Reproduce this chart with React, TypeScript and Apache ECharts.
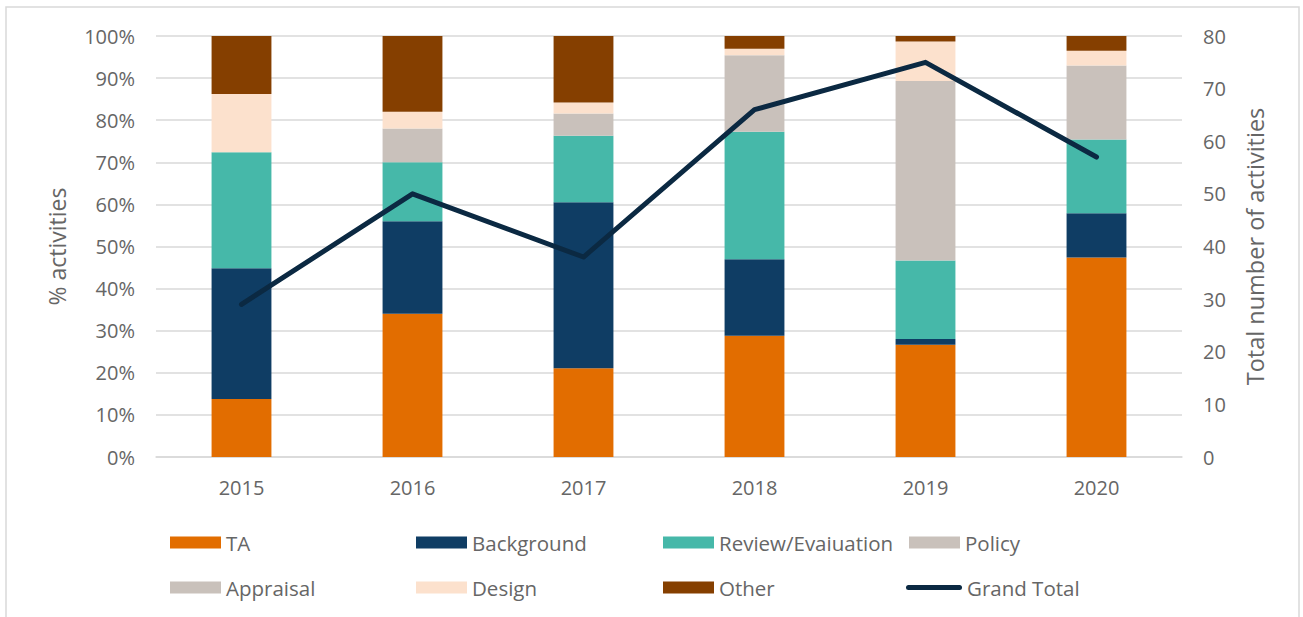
import React, { useEffect, useRef } from "react";
import * as echarts from "echarts";

const years = ["2015", "2016", "2017", "2018", "2019", "2020"];
// activity counts per category and year
const ta = [4, 17, 8, 19, 20, 27];
const background = [9, 11, 15, 12, 1, 6];
const review = [8, 7, 6, 20, 14, 10];
const policy = [0, 4, 2, 12, 32, 10];
const appraisal = [0, 0, 0, 0, 0, 0];
const design = [4, 2, 1, 1, 7, 2];
const other = [4, 9, 6, 2, 1, 2];
const grandTotal = [29, 50, 38, 66, 75, 57];

const leftTicks = { min: 0, max: 100, interval: 10 };
const rightTicks = { min: 0, max: 80, interval: 10 };

const FONT = "'Open Sans', 'Noto Sans', sans-serif";
const TXT = "#666666";

const seriesDefs = [
  { name: "TA", data: ta, color: "#e26d00" },
  { name: "Background", data: background, color: "#0f3d64" },
  { name: "Review/Evaiuation", data: review, color: "#46b8a9" },
  { name: "Policy", data: policy, color: "#c9c1bb" },
  { name: "Appraisal", data: appraisal, color: "#c9c1bb" },
  { name: "Design", data: design, color: "#fce1cd" },
  { name: "Other", data: other, color: "#853f00" },
];

const legendPos = [
  { name: "TA", left: 170, top: 532 },
  { name: "Background", left: 416, top: 532 },
  { name: "Review/Evaiuation", left: 663, top: 532 },
  { name: "Policy", left: 909, top: 532 },
  { name: "Appraisal", left: 170, top: 577 },
  { name: "Design", left: 416, top: 577 },
  { name: "Other", left: 663, top: 577 },
  { name: "Grand Total", left: 906, top: 577 },
];

const LINE_ICON =
  "path://M2.5,0 L53.5,0 A2.5,2.5 0 0 1 53.5,5 L2.5,5 A2.5,2.5 0 0 1 2.5,0 Z";

export default function App() {
  const ref = useRef<HTMLDivElement>(null);
  useEffect(() => {
    if (!ref.current) return;
    const chart = echarts.init(ref.current, undefined, { renderer: "svg" });
    const pct = (arr: number[]) =>
      arr.map((v, i) => (v / grandTotal[i]) * 100);
    const option: any = {
      animation: false,
      backgroundColor: "#ffffff",
      textStyle: { fontFamily: FONT },
      graphic: [
        {
          type: "rect",
          shape: { x: 6, y: 7, width: 1293, height: 700 },
          style: { fill: "none", stroke: "#d9d9d9", lineWidth: 1.5 },
          silent: true,
        },
      ],
      legend: legendPos.map((l) => {
        const isLine = l.name === "Grand Total";
        return {
          data: [{ name: l.name, icon: isLine ? LINE_ICON : "rect" }],
          left: l.left,
          top: l.top,
          padding: 0,
          itemWidth: isLine ? 56 : 51,
          itemHeight: isLine ? 5 : 12,
          textStyle: {
            color: TXT,
            fontSize: 20.5,
            fontFamily: FONT,
            lineHeight: 20,
          },
        };
      }),
      grid: { left: 156, right: 121, top: 36, bottom: 160 },
      xAxis: {
        type: "category",
        data: years,
        axisLine: { show: true, lineStyle: { color: "#d9d9d9", width: 1.5 } },
        axisTick: { show: false },
        axisLabel: { color: TXT, fontSize: 20, fontFamily: FONT, margin: 20 },
      },
      yAxis: [
        {
          type: "value",
          ...leftTicks,
          name: "% activities",
          nameLocation: "middle",
          nameRotate: 90,
          nameGap: 88,
          nameTextStyle: { color: TXT, fontSize: 23, fontFamily: FONT },
          axisLabel: {
            color: TXT,
            fontSize: 20,
            fontFamily: FONT,
            margin: 21,
            formatter: "{value}%",
          },
          axisLine: { show: false },
          axisTick: { show: false },
          splitLine: { lineStyle: { color: "#d9d9d9", width: 1.5 } },
        },
        {
          type: "value",
          ...rightTicks,
          position: "right",
          name: "Total number of activities",
          nameLocation: "middle",
          nameRotate: 90,
          nameGap: 61,
          nameTextStyle: { color: TXT, fontSize: 23.5, fontFamily: FONT },
          axisLabel: { color: TXT, fontSize: 20, fontFamily: FONT, margin: 21 },
          axisLine: { show: false },
          axisTick: { show: false },
          splitLine: { show: false },
        },
      ],
      series: [
        ...seriesDefs.map((s) => ({
          name: s.name,
          type: "bar",
          stack: "pct",
          barWidth: "35%",
          data: pct(s.data),
          itemStyle: { color: s.color },
          yAxisIndex: 0,
        })),
        {
          name: "Grand Total",
          type: "line",
          yAxisIndex: 1,
          data: grandTotal,
          symbol: "none",
          itemStyle: { color: "#0b2942" },
          lineStyle: { color: "#0b2942", width: 5, cap: "round", join: "round" },
          z: 5,
        },
      ],
    };
    chart.setOption(option);
    return () => chart.dispose();
  }, []);
  return (
    <div
      ref={ref}
      style={{ position: "fixed", left: 0, top: 0, width: 1303, height: 617 }}
    />
  );
}
